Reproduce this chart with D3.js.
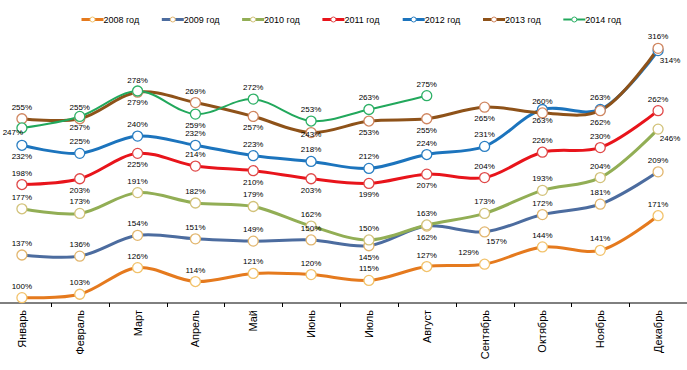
<!DOCTYPE html>
<html>
<head>
<meta charset="utf-8">
<script src="https://cdn.jsdelivr.net/npm/d3@7"></script>
<style>
  body { margin: 0; background: #fff; }
  text { font-family: Arial, "Liberation Sans", sans-serif; fill: #000; }
</style>
</head>
<body>
<div id="chart"></div>
<script>
var svgWidth = 687;
var svgHeight = 370;

// Data
var months = ["Январь", "Февраль", "Март", "Апрель", "Май", "Июнь", "Июль", "Август", "Сентябрь", "Октябрь", "Ноябрь", "Декабрь"];
var seriesNames = ["2008 год", "2009 год", "2010 год", "2011 год", "2012 год", "2013 год", "2014 год"];
var values2008 = [100, 103, 126, 114, 121, 120, 115, 127, 129, 144, 141, 171];
var values2009 = [137, 136, 154, 151, 149, 150, 145, 162, 157, 172, 181, 209];
var values2010 = [177, 173, 191, 182, 179, 162, 150, 163, 173, 193, 204, 246];
var values2011 = [198, 203, 225, 214, 210, 203, 199, 207, 204, 226, 230, 262];
var values2012 = [232, 225, 240, 232, 223, 218, 212, 224, 231, 263, 263, 314];
var values2013 = [255, 255, 278, 269, 257, 243, 253, 255, 265, 260, 262, 316];
var values2014 = [247, 257, 279, 259, 272, 253, 263, 275];

var allValues = [values2008, values2009, values2010, values2011, values2012, values2013, values2014];

// styles
var colors = ["#E57A1E", "#4C6C9F", "#92AE55", "#E8141B", "#1C74BD", "#8E5219", "#22A85C"];
var markerStroke = ["#F2C26A", "#E2B66E", "#D2C27A", "#E04848", "#2A7EC2", "#D08660", "#2DB066"];
var lineWidths = [3, 3, 3, 3, 3, 3, 2];

// label placement: a above, b below, br below-right, al above-left, l left, c on the mark
var labelPos = [
  ["a","a","a","a","a","a","a","a","al","a","a","a"],
  ["a","a","a","a","a","a","b","b","br","a","a","a"],
  ["a","a","a","a","a","a","a","a","a","a","a","br"],
  ["a","b","b","a","b","b","b","b","a","a","a","a"],
  ["b","a","a","a","a","a","a","a","a","b","a","br"],
  ["a","a","a","a","b","c","b","b","b","a","b","a"],
  ["l","b","b","b","a","a","a","a"]
];

var svg = d3.select("#chart")
  .append("svg")
  .attr("width", svgWidth)
  .attr("height", svgHeight);

var xScale = d3.scaleBand()
  .domain(months)
  .range([-7, 687]);

var yScale = d3.scaleLinear()
  .domain([100, 316])
  .range([297.7, 48.3]);

var axisY = 303;
var cx = d => xScale(d) + xScale.bandwidth() / 2;

// x axis line + ticks at category boundaries
svg.append("line")
  .attr("x1", 0).attr("x2", svgWidth)
  .attr("y1", axisY).attr("y2", axisY)
  .attr("stroke", "#000").attr("stroke-width", 1);

svg.selectAll(".tick")
  .data(months.slice(1))
  .enter()
  .append("line")
  .attr("x1", d => Math.round(xScale(d)) + 0.5)
  .attr("x2", d => Math.round(xScale(d)) + 0.5)
  .attr("y1", axisY)
  .attr("y2", axisY + 4)
  .attr("stroke", "#000");

svg.selectAll(".month")
  .data(months)
  .enter()
  .append("text")
  .attr("transform", d => `translate(${cx(d) + 4}, ${axisY + 7}) rotate(-90)`)
  .attr("text-anchor", "end")
  .style("font-size", "11px")
  .text(d => d);

var line = d3.line()
  .x((d, i) => cx(months[i]))
  .y(d => yScale(d))
  .curve(d3.curveCatmullRom.alpha(0.5));

allValues.forEach(function(vals, s) {
  svg.append("path")
    .attr("d", line(vals))
    .attr("fill", "none")
    .attr("stroke", colors[s])
    .attr("stroke-width", lineWidths[s])
    .attr("stroke-linejoin", "round");
});

allValues.forEach(function(vals, s) {
  svg.selectAll(".m" + s)
    .data(vals)
    .enter()
    .append("circle")
    .attr("cx", (d, i) => cx(months[i]))
    .attr("cy", d => yScale(d))
    .attr("r", 5)
    .attr("fill", "#fff")
    .attr("stroke", markerStroke[s])
    .attr("stroke-width", 1.3);
});

allValues.forEach(function(vals, s) {
  svg.selectAll(".l" + s)
    .data(vals)
    .enter()
    .append("text")
    .attr("x", function(d, i) {
      var p = labelPos[s][i];
      var x = cx(months[i]);
      if (p === "l") return x - 9;
      if (p === "br") return x + 12;
      if (p === "al") return x - 16;
      return x;
    })
    .attr("y", function(d, i) {
      var p = labelPos[s][i];
      var y = yScale(d);
      if (p === "a" || p === "al") return y - 9;
      if (p === "c") return y + 4;
      if (p === "l") return y + 7;
      if (p === "br") return y + 12;
      return y + 14;
    })
    .attr("text-anchor", "middle")
    .style("font-size", "8px")
    .text(d => d + "%");
});

// legend
var legend = svg.selectAll(".legend")
  .data(seriesNames)
  .enter()
  .append("g")
  .attr("transform", (d, i) => `translate(${81.5 + i * 80.3}, 19.5)`);

legend.append("line")
  .attr("x1", 0).attr("x2", 22)
  .attr("stroke", (d, i) => colors[i])
  .attr("stroke-width", (d, i) => lineWidths[i]);

legend.append("circle")
  .attr("cx", 11).attr("r", 2.5)
  .attr("fill", "#fff")
  .attr("stroke", (d, i) => markerStroke[i])
  .attr("stroke-width", 1);

legend.append("text")
  .attr("x", 22)
  .attr("y", 3)
  .style("font-size", "9px")
  .text(d => d);
</script>
</body>
</html>
